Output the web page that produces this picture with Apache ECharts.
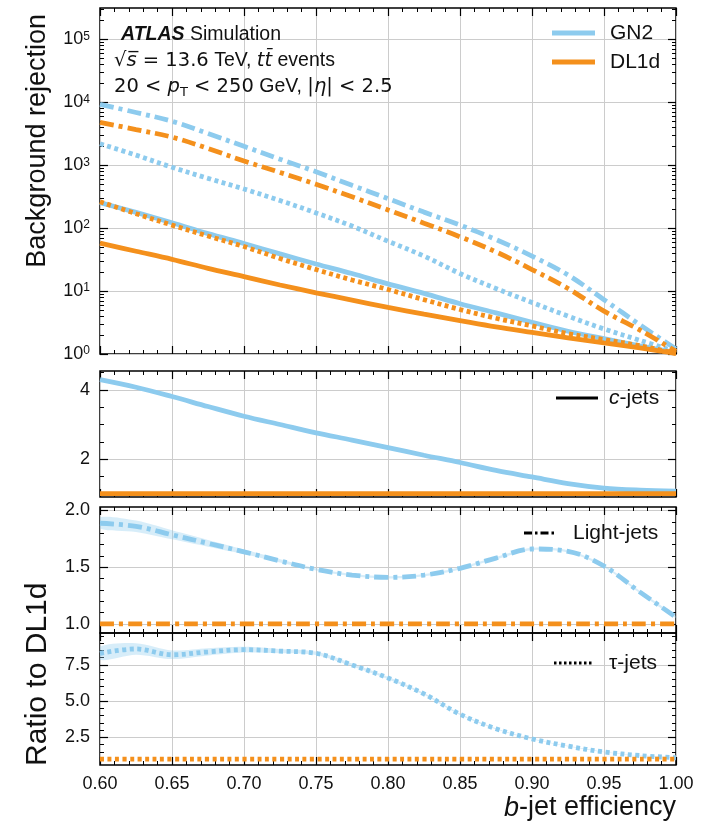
<!DOCTYPE html>
<html>
<head>
<meta charset="utf-8">
<script src="https://cdn.jsdelivr.net/npm/echarts@6/dist/echarts.min.js"></script>
<style>
  html, body { margin: 0; padding: 0; background: #fff; }
  #chart { width: 716px; height: 827px; }
</style>
</head>
<body>
<div id="chart"></div>
<script>
// b-jet efficiency working points
const efficiency = [0.60, 0.625, 0.65, 0.675, 0.70, 0.725, 0.75, 0.775, 0.80, 0.825, 0.85, 0.875, 0.90, 0.925, 0.95, 0.975, 1.00];

// Background rejection
const gn2CRej      = [255, 178, 122, 82, 57, 39, 27, 19, 13, 9.2, 6.3, 4.5, 3.2, 2.3, 1.75, 1.35, 1.05];
const dl1dCRej     = [58, 43, 32, 23, 17, 12.5, 9.4, 7.2, 5.5, 4.3, 3.4, 2.7, 2.2, 1.8, 1.5, 1.25, 1.02];
const gn2LightRej  = [9300, 6900, 5000, 3200, 2000, 1250, 790, 480, 295, 180, 112, 66, 36, 18, 7.3, 2.9, 1.2];
const dl1dLightRej = [4800, 3700, 2800, 1850, 1170, 770, 500, 315, 195, 120, 73, 42, 22, 11, 4.8, 2.4, 1.1];
const gn2TauRej    = [2200, 1450, 930, 620, 420, 275, 175, 108, 62, 36, 19, 11, 6.6, 4.0, 2.5, 1.65, 1.08];
const dl1dTauRej   = [263, 170, 112, 75, 51, 33, 22, 15, 10.6, 7.3, 5.1, 3.7, 2.8, 2.1, 1.7, 1.35, 1.02];

// Ratios to DL1d
const dl1dRatio      = [1, 1, 1, 1, 1, 1, 1, 1, 1, 1, 1, 1, 1, 1, 1, 1, 1];
const gn2CRatio      = [4.30, 4.08, 3.81, 3.52, 3.24, 3.00, 2.76, 2.55, 2.33, 2.11, 1.90, 1.67, 1.48, 1.29, 1.16, 1.10, 1.07];
const gn2LightRatio  = [1.887, 1.86, 1.785, 1.71, 1.635, 1.555, 1.48, 1.43, 1.41, 1.43, 1.49, 1.58, 1.66, 1.64, 1.51, 1.28, 1.06];
const gn2LightLo     = [1.84, 1.81, 1.745, 1.68, 1.615, 1.54, 1.47, 1.42, 1.40, 1.42, 1.48, 1.57, 1.65, 1.63, 1.50, 1.27, 1.05];
const gn2LightHi     = [1.94, 1.91, 1.825, 1.74, 1.655, 1.57, 1.49, 1.44, 1.42, 1.44, 1.50, 1.59, 1.67, 1.65, 1.52, 1.29, 1.07];
const gn2TauRatio    = [8.3, 8.6, 8.2, 8.4, 8.55, 8.45, 8.3, 7.5, 6.6, 5.5, 4.1, 3.1, 2.4, 1.9, 1.5, 1.25, 1.1];
const gn2TauLo       = [7.85, 8.2, 7.9, 8.15, 8.35, 8.3, 8.18, 7.4, 6.52, 5.44, 4.05, 3.06, 2.37, 1.88, 1.48, 1.23, 1.08];
const gn2TauHi       = [8.75, 9.0, 8.5, 8.65, 8.75, 8.6, 8.42, 7.6, 6.68, 5.56, 4.15, 3.14, 2.43, 1.92, 1.52, 1.27, 1.12];

// Tick positions
const rejMajorTicks   = [1, 10, 100, 1000, 10000, 100000];
const rejMinorTicks   = [2,3,4,5,6,7,8,9, 20,30,40,50,60,70,80,90, 200,300,400,500,600,700,800,900,
                         2000,3000,4000,5000,6000,7000,8000,9000, 20000,30000,40000,50000,60000,70000,80000,90000,
                         200000,300000];
const cMajorTicks     = [2, 4];
const cMinorTicks     = [1, 1.5, 2.5, 3, 3.5, 4.5];
const lightMajorTicks = [1.0, 1.5, 2.0];
const lightMinorTicks = [1.1, 1.2, 1.3, 1.4, 1.6, 1.7, 1.8, 1.9];
const tauMajorTicks   = [2.5, 5.0, 7.5];
const tauMinorTicks   = [1, 1.5, 2, 3, 3.5, 4, 4.5, 5.5, 6, 6.5, 7, 8, 8.5, 9, 9.5];

const BLUE = '#8dcbee';
const BLUE_BAND = 'rgba(141,203,238,0.35)';
const ORANGE = '#f4901c';
const FONT = "'Liberation Sans', Arial, Helvetica, sans-serif";
const MATH = "'DejaVu Sans', sans-serif";
const DASHDOT = [14, 5, 4, 5];
const DOTTED = [4, 3.5];
const LW = 4.8;

const panels = [
  { top: 8,   height: 346, type: 'log',   min: 1,    max: Math.pow(10, 5.5), majors: rejMajorTicks,   minors: rejMinorTicks },
  { top: 371, height: 126, type: 'value', min: 0.9,  max: 4.55,              majors: cMajorTicks,     minors: cMinorTicks },
  { top: 507, height: 126, type: 'value', min: 0.92, max: 2.03,              majors: lightMajorTicks, minors: lightMinorTicks },
  { top: 633, height: 132, type: 'value', min: 0.6,  max: 9.7,               majors: tauMajorTicks,   minors: tauMinorTicks }
];

const grids = panels.map(p => ({
  left: 100, width: 576, top: p.top, height: p.height,
  show: true, borderColor: '#000', borderWidth: 1.5, backgroundColor: 'transparent'
}));

const gridLine = { show: true, lineStyle: { color: '#cccccc', width: 1 } };

const xAxes = [];
const yAxes = [];
panels.forEach((p, g) => {
  ['bottom', 'top'].forEach(pos => {
    xAxes.push({
      type: 'value', gridIndex: g, position: pos, min: 0.6, max: 1.0, interval: 0.05,
      axisLine: { show: false },
      axisTick: { show: true, inside: true, length: 8, lineStyle: { color: '#000', width: 1.2 } },
      minorTick: { show: true, splitNumber: 5, length: 4, lineStyle: { color: '#000', width: 1 } },
      splitLine: pos === 'bottom' ? gridLine : { show: false },
      axisLabel: {
        show: pos === 'bottom' && g === 3, fontFamily: FONT, fontSize: 18, color: '#111', margin: 10,
        formatter: v => v.toFixed(2)
      }
    });
  });
  const labelFmt = p.type === 'log'
    ? v => '10{sup|' + Math.round(Math.log10(v)) + '}'
    : (g === 1 ? v => String(v) : v => v.toFixed(1));
  ['left', 'right'].forEach(pos => {
    yAxes.push({
      type: p.type, gridIndex: g, position: pos, min: p.min, max: p.max,
      axisLine: { show: false },
      axisTick: { show: true, inside: true, length: 8, customValues: p.majors, lineStyle: { color: '#000', width: 1.2 } },
      splitLine: pos === 'left' ? gridLine : { show: false },
      axisLabel: {
        show: pos === 'left', customValues: p.majors, formatter: labelFmt,
        fontFamily: FONT, fontSize: 18, color: '#111', margin: 10,
        rich: { sup: { fontFamily: FONT, fontSize: 12, color: '#111', verticalAlign: 'top', lineHeight: 12 } }
      }
    });
    yAxes.push({
      type: p.type, gridIndex: g, position: pos, min: p.min, max: p.max,
      axisLine: { show: false },
      axisTick: { show: true, inside: true, length: 4, customValues: p.minors, lineStyle: { color: '#000', width: 1 } },
      splitLine: { show: false },
      axisLabel: { show: false }
    });
  });
});

function pairs(values) { return efficiency.map((x, i) => [x, values[i]]); }

function curve(g, values, color, dash, z) {
  return {
    type: 'line', xAxisIndex: 2 * g, yAxisIndex: 4 * g, data: pairs(values),
    symbol: 'none', smooth: 0.35, silent: true, z: z || 3,
    lineStyle: { color: color, width: LW, type: dash || 'solid', cap: 'butt' }
  };
}

// Uncertainty band: polygon running along the upper edge and back along the lower edge
function band(g, lo, hi) {
  return {
    type: 'custom', coordinateSystem: 'cartesian2d', xAxisIndex: 2 * g, yAxisIndex: 4 * g,
    data: [[efficiency[0], lo[0]]], silent: true, z: 2, clip: true,
    renderItem: (params, api) => {
      const upper = efficiency.map((x, i) => api.coord([x, hi[i]]));
      const lower = efficiency.map((x, i) => api.coord([x, lo[i]])).reverse();
      return {
        type: 'polygon',
        shape: { points: upper.concat(lower), smooth: 0.3 },
        style: { fill: BLUE_BAND, stroke: null }
      };
    }
  };
}

const series = [
  // rejection panel
  curve(0, gn2LightRej, BLUE, DASHDOT),
  curve(0, gn2TauRej, BLUE, DOTTED),
  curve(0, gn2CRej, BLUE, 'solid'),
  curve(0, dl1dLightRej, ORANGE, DASHDOT, 4),
  curve(0, dl1dTauRej, ORANGE, DOTTED, 4),
  curve(0, dl1dCRej, ORANGE, 'solid', 4),
  // c-jets ratio
  curve(1, gn2CRatio, BLUE, 'solid'),
  curve(1, dl1dRatio, ORANGE, 'solid', 4),
  // light-jets ratio
  band(2, gn2LightLo, gn2LightHi),
  curve(2, gn2LightRatio, BLUE, DASHDOT),
  curve(2, dl1dRatio, ORANGE, DASHDOT, 4),
  // tau-jets ratio
  band(3, gn2TauLo, gn2TauHi),
  curve(3, gn2TauRatio, BLUE, DOTTED),
  curve(3, dl1dRatio, ORANGE, DOTTED, 4)
];

const txt = (x, y, text, size, extra) => Object.assign({
  type: 'text', x: x, y: y, z: 50,
  style: Object.assign({
    text: text, fill: '#111', fontFamily: FONT, fontSize: size,
    textVerticalAlign: 'middle'
  }, extra || {})
});

const SZ = 19.5;
const richLabel = {
  b:   { fontFamily: FONT, fontSize: SZ, fontWeight: 'bold', fontStyle: 'italic', fill: '#111', lineHeight: 24 },
  n:   { fontFamily: FONT, fontSize: SZ, fill: '#111', lineHeight: 24 },
  m:   { fontFamily: MATH, fontSize: SZ, fill: '#111', lineHeight: 24 },
  mi:  { fontFamily: MATH, fontSize: SZ, fontStyle: 'italic', fill: '#111', lineHeight: 24 },
  sub: { fontFamily: MATH, fontSize: 13, fill: '#111', verticalAlign: 'bottom', lineHeight: 14 }
};

const LEG = 21;
const richLegend = {
  i: { fontFamily: FONT, fontSize: LEG, fontStyle: 'italic', fill: '#111' },
  n: { fontFamily: FONT, fontSize: LEG, fill: '#111' }
};

const legendLine = (x1, x2, y, color, dash, w) => ({
  type: 'line', z: 50, shape: { x1: x1, y1: y, x2: x2, y2: y },
  style: { stroke: color, lineWidth: w, lineDash: dash || null, lineCap: 'butt' }
});

const graphics = [
  // experiment label
  txt(121, 35, '{b|ATLAS}{n| Simulation}', SZ, { rich: richLabel }),
  txt(114, 61, '{m|\u221A}{mi|s\u0305}{m| = 13.6}{n| TeV, }{mi|tt\u0304}{n| events}', SZ, { rich: richLabel }),
  txt(114, 87, '{m|20 < }{mi|p}{sub|T}{m| < 250}{n| GeV, }{m||}{mi|\u03B7}{m|| < 2.5}', SZ, { rich: richLabel }),
  // tagger legend
  legendLine(552, 595, 33, BLUE, null, LW),
  txt(610, 33, 'GN2', LEG),
  legendLine(552, 595, 62, ORANGE, null, LW),
  txt(610, 62, 'DL1d', LEG),
  // flavour legends
  legendLine(556, 598, 398, '#000', null, 3),
  txt(609, 398, '{i|c}{n|-jets}', LEG, { rich: richLegend }),
  legendLine(524, 556, 533, '#000', [8, 3, 2.5, 3], 3),
  txt(573, 533, 'Light-jets', LEG),
  legendLine(554, 592, 663, '#000', [2.5, 2.5], 3),
  txt(609, 663, '\u03C4-jets', LEG),
  // axis titles
  Object.assign(txt(38, 14, 'Background rejection', 27, { textAlign: 'right' }), { rotation: Math.PI / 2 }),
  Object.assign(txt(38, 766, 'Ratio to DL1d', 30, { textAlign: 'left' }), { rotation: Math.PI / 2 }),
  txt(676, 808, '{bi|b}{bn|-jet efficiency}', 27, {
    textAlign: 'right',
    rich: {
      bi: { fontFamily: FONT, fontSize: 27, fontStyle: 'italic', fill: '#111' },
      bn: { fontFamily: FONT, fontSize: 27, fill: '#111' }
    }
  })
];

const chart = echarts.init(document.getElementById('chart'), null, { renderer: 'canvas' });
chart.setOption({
  animation: false,
  backgroundColor: '#fff',
  grid: grids,
  xAxis: xAxes,
  yAxis: yAxes,
  series: series,
  graphic: { elements: graphics }
});
</script>
</body>
</html>
